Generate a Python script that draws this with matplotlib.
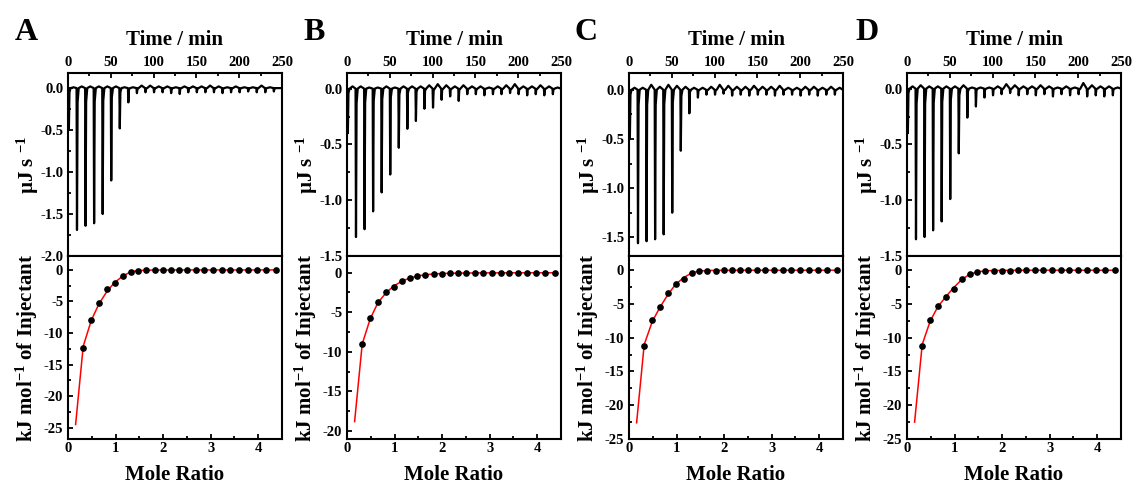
import matplotlib
matplotlib.use("Agg")
from matplotlib import pyplot as plt
from matplotlib.ticker import MultipleLocator, FormatStrFormatter

plt.rcParams["font.family"] = ["Liberation Serif", "DejaVu Serif"]
plt.rcParams["font.weight"] = "bold"
plt.rcParams["axes.unicode_minus"] = False
plt.rcParams["mathtext.default"] = "regular"

letters = ["A", "B", "C", "D"]

# injection times (min)
inj_time = [0.5, 10, 20, 30, 40, 50, 60, 70, 80, 90, 100, 110, 120, 130, 140,
            150, 160, 170, 180, 190, 200, 210, 220, 230, 240]

# raw peak depths (uJ/s) per injection
peaks_A = [-0.5, -1.69, -1.64, -1.61, -1.50, -1.10, -0.48, -0.17, -0.06, -0.05, -0.05, -0.05, -0.06,
           -0.07, -0.05, -0.05, -0.05, -0.05, -0.06, -0.05, -0.05, -0.04, -0.05, -0.05, -0.04]
peaks_B = [-0.4, -1.33, -1.26, -1.10, -0.93, -0.77, -0.53, -0.36, -0.29, -0.18, -0.17, -0.10, -0.07,
           -0.11, -0.05, -0.05, -0.06, -0.05, -0.05, -0.04, -0.05, -0.06, -0.05, -0.06, -0.05]
peaks_C = [-0.5, -1.56, -1.54, -1.52, -1.47, -1.25, -0.62, -0.24, -0.08, -0.05, -0.05, -0.04, -0.06,
           -0.05, -0.06, -0.05, -0.05, -0.06, -0.05, -0.05, -0.06, -0.05, -0.06, -0.05, -0.05]
peaks_D = [-0.4, -1.35, -1.33, -1.27, -1.19, -0.99, -0.58, -0.26, -0.16, -0.08, -0.06, -0.05, -0.04,
           -0.06, -0.05, -0.06, -0.05, -0.07, -0.05, -0.06, -0.05, -0.07, -0.06, -0.07, -0.06]

# small baseline bumps between injections (uJ/s)
bumps_A = [0.01, 0.02, 0.02, 0.02, 0.02, 0.02, 0.01, 0.01, 0.03, 0.03, 0.02, 0.02, 0.01,
           0.02, 0.02, 0.02, 0.03, 0.02, 0.01, 0.02, 0.01, 0.01, 0.03, 0.01, 0.0]
bumps_B = [0.02, 0.02, 0.01, 0.01, 0.02, 0.01, 0.02, 0.02, 0.02, 0.03, 0.04, 0.03, 0.02,
           0.03, 0.02, 0.02, 0.01, 0.02, 0.03, 0.04, 0.02, 0.02, 0.03, 0.02, 0.01]
bumps_C = [0.02, 0.02, 0.05, 0.03, 0.05, 0.04, 0.03, 0.02, 0.02, 0.03, 0.05, 0.04, 0.03,
           0.03, 0.04, 0.03, 0.03, 0.04, 0.02, 0.02, 0.03, 0.03, 0.02, 0.03, 0.02]
bumps_D = [0.02, 0.03, 0.02, 0.02, 0.02, 0.02, 0.03, 0.01, 0.01, 0.01, 0.02, 0.04, 0.03,
           0.02, 0.02, 0.03, 0.02, 0.01, 0.02, 0.01, 0.05, 0.03, 0.02, 0.02, 0.01]

# molar ratio of each injection
ratio = [0.16, 0.32, 0.49, 0.65, 0.82, 0.98, 1.15, 1.32, 1.48, 1.65, 1.82, 1.99, 2.17,
         2.34, 2.51, 2.69, 2.87, 3.05, 3.23, 3.41, 3.60, 3.79, 3.98, 4.17, 4.38]

# integrated heats (kJ/mol), first injection excluded
heat_A = [-12.3, -8.0, -5.3, -3.1, -2.05, -1.0, -0.37, -0.15, -0.08, -0.06, -0.05, -0.05,
          -0.04, -0.04, -0.04, -0.04, -0.03, -0.03, -0.03, -0.03, -0.03, -0.03, -0.03, -0.03]
heat_B = [-9.04, -5.7, -3.75, -2.5, -1.75, -1.05, -0.63, -0.42, -0.25, -0.17, -0.12, -0.09,
          -0.07, -0.06, -0.05, -0.05, -0.04, -0.04, -0.04, -0.04, -0.03, -0.03, -0.03, -0.03]
heat_C = [-11.3, -7.45, -5.5, -3.33, -2.06, -1.32, -0.44, -0.15, -0.06, -0.05, -0.04, -0.04,
          -0.04, -0.04, -0.03, -0.03, -0.03, -0.03, -0.03, -0.03, -0.03, -0.03, -0.03, -0.03]
heat_D = [-11.3, -7.45, -5.3, -4.0, -2.75, -1.37, -0.6, -0.34, -0.15, -0.08, -0.06, -0.05,
          -0.04, -0.04, -0.04, -0.03, -0.03, -0.03, -0.03, -0.03, -0.03, -0.03, -0.03, -0.03]

# fitted curve at each injection
fit_A = [-24.5, -12.1, -8.0, -5.4, -3.4, -2.0, -1.0, -0.3, -0.1, -0.05, -0.03, -0.02, -0.02,
         -0.01, -0.01, -0.01, -0.01, -0.01, -0.01, -0.01, -0.01, -0.01, -0.01, -0.01, -0.01]
fit_B = [-18.8, -9.0, -5.8, -3.8, -2.55, -1.7, -1.1, -0.68, -0.42, -0.27, -0.17, -0.11, -0.08,
         -0.06, -0.05, -0.04, -0.03, -0.03, -0.03, -0.02, -0.02, -0.02, -0.02, -0.02, -0.02]
fit_C = [-22.6, -11.0, -7.6, -5.5, -3.6, -2.1, -1.1, -0.4, -0.12, -0.05, -0.03, -0.02, -0.02,
         -0.01, -0.01, -0.01, -0.01, -0.01, -0.01, -0.01, -0.01, -0.01, -0.01, -0.01, -0.01]
fit_D = [-22.5, -11.0, -7.5, -5.4, -3.9, -2.6, -1.4, -0.6, -0.25, -0.1, -0.05, -0.03, -0.02,
         -0.02, -0.01, -0.01, -0.01, -0.01, -0.01, -0.01, -0.01, -0.01, -0.01, -0.01, -0.01]

peaks = [peaks_A, peaks_B, peaks_C, peaks_D]
bumps = [bumps_A, bumps_B, bumps_C, bumps_D]
heats = [heat_A, heat_B, heat_C, heat_D]
fits = [fit_A, fit_B, fit_C, fit_D]

top_ylim = [(-2.0, 0.18), (-1.5, 0.14), (-1.69, 0.17), (-1.5, 0.14)]
bot_ylim = [(-26.8, 2.2), (-21.0, 2.1), (-25.0, 2.1), (-25.0, 2.1)]
lefts = [68, 347, 629, 907]
letter_x = [15, 303, 575, 855]

W, H = 1132, 486
fig = plt.figure(figsize=(W / 100, H / 100), dpi=100)


def trace(pk_list, bp_list):
    t, p = [0], [0]
    for ti, pk, bp in zip(inj_time, pk_list, bp_list):
        t += [ti, ti + 0.5, ti + 1.2, ti + 2.5, ti + 6.0]
        p += [0, pk, pk * 0.1, 0, bp]
    t.append(250)
    p.append(0)
    return t, p


def style(ax):
    for s in ax.spines.values():
        s.set_linewidth(1.5)
    ax.tick_params(which="both", direction="in", width=1.3, labelsize=10.5)
    ax.tick_params(which="major", length=3.5)
    ax.tick_params(which="minor", length=2)
    for lab in ax.get_xticklabels() + ax.get_yticklabels():
        lab.set_fontweight("bold")


for i in range(4):
    x0 = lefts[i] / W
    w = 214 / W
    y_mid = 1 - 256 / H
    y_top = 1 - 73 / H
    y_bot = 1 - 439 / H
    ax1 = fig.add_axes([x0, y_mid, w, y_top - y_mid])
    ax2 = fig.add_axes([x0, y_bot, w, y_mid - y_bot])

    t, p = trace(peaks[i], bumps[i])
    ax1.plot(t, p, color="black", lw=1.6)
    ax1.set_xlim(0, 250)
    ax1.set_ylim(*top_ylim[i])
    ax1.xaxis.tick_top()
    ax1.xaxis.set_label_position("top")
    ax1.xaxis.set_major_locator(MultipleLocator(50))
    ax1.xaxis.set_minor_locator(MultipleLocator(25))
    ax1.yaxis.set_major_locator(MultipleLocator(0.5))
    ax1.yaxis.set_minor_locator(MultipleLocator(0.25))
    ax1.yaxis.set_major_formatter(FormatStrFormatter("%.1f"))
    ax1.tick_params(axis="x", pad=3)
    ax1.set_xlabel("Time / min", fontsize=15, fontweight="bold", labelpad=8)
    ax1.set_ylabel("µJ s $^{-1}$", fontsize=15, fontweight="bold")
    ax1.yaxis.set_label_coords(-0.125, 0.5)
    style(ax1)

    ax2.plot(ratio, fits[i], color="red", lw=1.1, zorder=2)
    ax2.plot(ratio[1:], heats[i], "o", color="black", ms=3.8, zorder=3)
    ax2.set_xlim(0, 4.5)
    ax2.set_ylim(*bot_ylim[i])
    ax2.xaxis.set_major_locator(MultipleLocator(1))
    ax2.xaxis.set_minor_locator(MultipleLocator(0.5))
    ax2.yaxis.set_major_locator(MultipleLocator(5))
    ax2.yaxis.set_minor_locator(MultipleLocator(2.5))
    ax2.tick_params(axis="x", pad=2)
    ax2.set_xlabel("Mole Ratio", fontsize=15, fontweight="bold", labelpad=7)
    ax2.set_ylabel("kJ mol$^{-1}$ of Injectant", fontsize=15, fontweight="bold")
    ax2.yaxis.set_label_coords(-0.13, 0.5)
    style(ax2)

    fig.text(letter_x[i] / W, 1 - 32 / H, letters[i], fontsize=23,
             fontweight="bold", ha="left", va="center")

fig.savefig("out.png", dpi=100)
